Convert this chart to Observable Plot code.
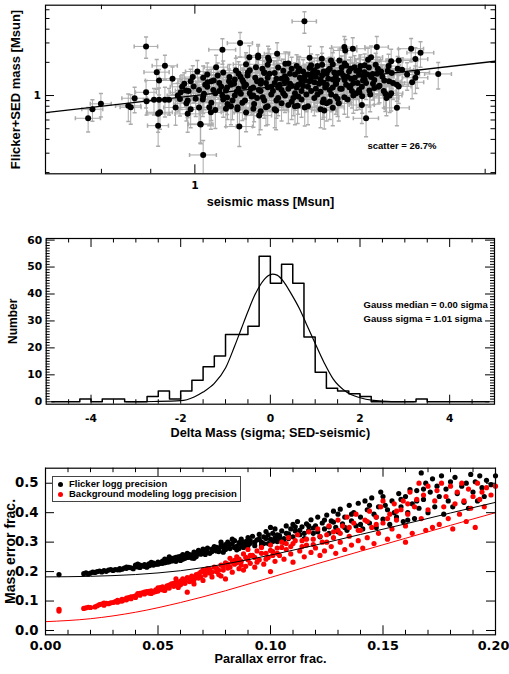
<!DOCTYPE html>
<html><head><meta charset="utf-8">
<script src="https://cdn.jsdelivr.net/npm/d3@7"></script>
<script src="https://cdn.jsdelivr.net/npm/@observablehq/plot@0.6"></script>
<style>
html,body{margin:0;padding:0;background:#fff;}
#wrap{position:relative;width:509px;height:674px;overflow:hidden;background:#fff;}
#wrap svg{display:block;}
#legend{position:absolute;left:52px;top:476px;width:189px;height:26px;border:1px solid #444;box-sizing:border-box;background:#fff;font:bold 9.5px 'Liberation Sans',Arial,sans-serif;color:#000;}
.li{position:absolute;left:16px;white-space:nowrap;line-height:10px;}
.dt{position:absolute;left:5px;width:5px;height:5px;border-radius:50%;}
</style></head><body>
<div id="wrap"><div id="p1"></div><div id="p2"></div><div id="p3"></div>
<div id="legend">
 <div class="dt" style="top:5px;background:#000"></div><div class="li" style="top:2px">Flicker logg precision</div>
 <div class="dt" style="top:14.5px;background:#f00"></div><div class="li" style="top:11.5px">Background modeling logg precision</div>
</div></div>
<script>
// ---------- Panel 1 data: [seismic mass, Flicker+SED mass, x err %, y err %] ----------
const seismicSedPts = [
[0.775,0.622,3.0,25],[0.783,0.751,2.5,22],[0.799,0.841,2.5,24],[0.853,0.806,3.0,28],[0.858,0.783,2.5,30],
[0.866,0.945,3.0,26],[0.890,2.79,2.8,22],[0.890,1.07,2.5,28],[0.891,0.888,3.0,25],[0.907,0.914,2.5,27],
[0.913,1.63,3.0,30],[0.916,0.682,2.8,32],[0.918,1.37,3.2,26],[0.916,0.533,2.5,35],[0.920,0.705,3.0,30],
[0.918,0.914,2.5,28],[0.931,1.86,3.0,25],[0.931,0.914,2.8,30],[0.940,0.914,2.5,27],[0.948,1.42,3.0,28],
[0.967,1.07,2.5,30],[0.975,1.28,3.0,26],[0.979,1.11,2.5,28],[0.983,0.682,3.0,32],[0.983,0.90,2.8,30],
[0.995,1.47,3.0,27],[0.997,1.21,2.5,29],[1.002,0.933,3.0,31],[1.006,1.65,2.8,26],[1.014,0.545,3.0,33],
[1.020,0.289,3.2,35],[1.019,0.92,2.5,30],[1.022,1.04,3.0,28],[1.031,1.32,2.8,30],[1.035,0.783,3.0,32],
[1.039,0.705,2.5,30],[1.046,1.37,3.0,27],[1.052,1.81,2.8,28],[1.056,1.52,3.0,30],[1.068,2.60,3.2,26],
[1.068,1.00,2.5,29],[1.077,1.11,3.0,31],[1.081,0.84,2.8,28],[1.086,1.47,3.0,30],[1.094,0.90,2.5,33],
[1.098,1.28,3.0,27],[1.103,1.69,2.8,29],[1.107,0.783,3.0,31],[1.112,0.523,3.2,34],[1.114,2.99,3.0,25],
[1.116,1.04,2.5,28],[1.123,1.32,3.0,30],[1.127,0.90,2.8,32],[1.134,1.52,3.0,28],[1.139,2.23,3.2,27],
[1.143,1.15,2.5,30],[1.152,0.84,3.0,31],[1.157,1.81,2.8,28],[1.163,2.23,3.0,26],[1.166,0.658,3.0,33],
[1.171,1.37,2.5,29],[1.176,0.965,3.0,30],[1.180,1.63,2.8,28],[1.185,0.783,3.0,32],[1.190,1.19,2.5,30],
[1.194,2.08,3.0,27],[1.299,4.71,2.9,22],[1.013,0.553,2.8,33],[1.163,2.31,3.0,26],[1.191,2.20,2.8,27],
[1.217,2.39,3.0,26],[1.241,1.94,2.8,28],[1.283,1.75,3.0,29],[1.315,2.20,2.8,27],[1.354,2.16,3.0,28],
[1.384,2.08,2.8,29],[1.429,2.75,3.0,25],[1.432,2.56,2.8,26],[1.362,0.73,3.0,32],[1.390,0.773,2.8,31],
[1.357,0.869,3.0,30],[1.278,0.81,2.8,31],[1.214,0.73,3.0,33],[1.107,0.751,2.8,32],[1.077,0.757,3.0,31],
[1.458,2.66,3.0,26],[1.544,2.75,2.8,25],[1.676,2.66,3.0,24],[1.714,2.44,3.2,26],[1.693,2.14,3.0,27],
[1.598,2.05,2.8,28],[1.627,2.08,3.0,27],[1.523,2.23,2.8,26],[1.512,2.11,3.0,27],[1.588,1.85,2.8,28],
[1.623,1.75,3.0,29],[1.640,1.71,2.8,28],[1.788,1.57,3.2,27],[1.693,1.45,3.0,28],[1.572,1.37,2.8,29],
[1.554,1.23,3.0,30],[1.535,1.17,2.8,29],[1.627,1.21,3.0,30],[1.576,1.04,2.8,31],[1.592,1.00,3.0,30],
[1.598,1.05,2.8,31],[1.491,0.986,3.0,30],[1.517,1.11,2.8,29],[1.620,0.773,3.0,31],[1.505,0.622,3.0,32],
[1.429,0.965,2.8,30],[1.406,0.933,3.0,31],[1.446,1.19,2.8,29],[1.452,1.42,3.0,28],[1.464,1.81,2.8,27],
[1.435,1.87,3.0,28],[1.481,1.69,2.8,28],[1.499,1.63,3.0,29],[1.529,1.57,2.8,28],[1.548,1.75,3.0,27],
[1.494,1.37,2.8,29],[1.523,1.47,3.0,28],[1.412,2.08,2.8,27],[1.418,1.63,3.0,28],[1.401,1.28,2.8,29],
[1.481,1.07,3.0,30],
[0.955,0.78,2.8,31],[0.96,1.00,2.5,29],[0.965,0.93,3.0,30],[0.97,1.20,2.8,28],[0.98,0.85,3.0,31],
[0.985,1.10,2.5,29],[0.99,1.35,3.0,28],[0.99,0.75,2.8,32],
[1.01,1.12,3.0,29],[1.02,0.98,2.8,30],[1.03,1.20,3.0,28],[1.04,0.86,2.5,31],[1.05,1.05,3.0,30],
[1.06,1.30,2.8,28],[1.07,0.92,3.0,31],[1.08,1.18,2.5,29],[1.09,0.80,3.0,32],[1.10,1.40,2.8,28],
[1.01,0.78,3.0,31],[1.03,1.55,2.8,27],[1.05,0.74,3.0,32],[1.06,1.10,2.5,30],[1.08,0.96,3.0,30],
[1.09,1.25,2.8,29],[1.04,1.35,3.0,28],[1.02,1.45,2.8,28],[1.07,1.62,3.0,27],[1.10,1.00,2.5,30],
[1.11,1.15,3.0,29],[1.12,0.86,2.8,31],[1.13,1.25,3.0,29],[1.14,1.05,2.5,30],[1.15,0.76,3.0,32],
[1.16,1.35,2.8,28],[1.17,1.10,3.0,30],[1.18,0.90,2.8,31],[1.19,1.45,3.0,28],[1.20,1.20,2.5,29],
[1.11,1.58,3.0,28],[1.13,0.70,2.8,33],[1.14,1.70,3.0,27],[1.15,1.00,2.8,30],[1.16,0.95,3.0,31],
[1.17,1.28,2.5,29],[1.18,1.60,3.0,28],[1.19,0.80,2.8,32],[1.12,1.38,3.0,29],[1.20,1.02,2.8,30],
[1.15,1.18,3.0,29],[1.17,0.72,2.8,32],[1.13,1.92,3.0,27],[1.19,1.90,2.8,27],
[1.21,1.30,3.0,29],[1.22,0.95,2.8,31],[1.23,1.12,3.0,30],[1.24,1.50,2.5,28],[1.25,0.82,3.0,32],
[1.26,1.22,2.8,29],[1.27,1.05,3.0,30],[1.28,1.65,2.8,28],[1.29,0.92,3.0,31],[1.30,1.38,2.5,29],
[1.21,0.75,3.0,32],[1.22,1.80,2.8,27],[1.23,1.42,3.0,28],[1.24,1.00,2.8,30],[1.25,1.15,3.0,29],
[1.26,0.88,2.5,31],[1.27,1.55,3.0,28],[1.28,1.25,2.8,29],[1.29,1.10,3.0,30],[1.30,0.78,2.8,32],
[1.22,1.18,3.0,29],[1.24,1.32,2.8,29],[1.26,1.75,3.0,27],[1.28,0.98,2.8,31],[1.30,1.50,3.0,28],
[1.21,1.60,2.8,28],[1.23,0.85,3.0,31],[1.25,1.95,2.8,27],[1.27,0.80,3.0,32],[1.29,1.35,2.8,29],
[1.31,1.20,3.0,30],[1.32,1.45,2.8,28],[1.33,0.95,3.0,31],[1.34,1.62,2.5,28],[1.35,1.08,3.0,30],
[1.36,1.30,2.8,29],[1.37,0.85,3.0,31],[1.38,1.75,2.8,27],[1.39,1.18,3.0,30],[1.40,1.50,2.8,28],
[1.31,0.80,3.0,32],[1.32,1.88,2.8,27],[1.33,1.32,3.0,29],[1.34,1.02,2.8,30],[1.35,1.40,3.0,29],
[1.36,0.92,2.5,31],[1.37,1.58,3.0,28],[1.38,1.12,2.8,30],[1.39,1.92,3.0,27],[1.40,0.98,2.8,31],
[1.31,1.55,3.0,28],[1.33,1.70,2.8,28],[1.35,0.75,3.0,32],[1.37,1.25,2.8,29],[1.39,1.40,3.0,29],
[1.32,1.10,2.8,30],[1.34,1.85,3.0,27],[1.36,1.65,2.8,28],[1.38,0.88,3.0,31],[1.40,1.28,2.8,29],
[1.41,1.60,3.0,28],[1.42,1.15,2.8,30],[1.43,1.38,3.0,29],[1.44,0.92,2.8,31],[1.45,1.75,3.0,27],
[1.46,1.30,2.8,29],[1.47,1.05,3.0,30],[1.48,1.55,2.8,28],[1.49,1.20,3.0,30],[1.50,1.88,2.8,27],
[1.41,0.85,3.0,31],[1.43,1.95,2.8,27],[1.44,1.48,3.0,28],[1.46,1.00,2.8,31],[1.47,1.68,3.0,28],
[1.48,1.12,2.8,30],[1.49,0.82,3.0,32],[1.42,1.80,2.8,27],[1.45,1.22,3.0,29],[1.50,1.40,2.8,29],
[1.51,1.55,3.0,28],[1.53,1.28,3.0,29],[1.54,1.90,2.8,27],[1.56,1.65,2.8,28],[1.57,1.10,3.0,30],
[1.59,1.35,3.0,29],[1.60,1.60,2.8,28],[1.62,1.25,2.8,29],[1.52,1.02,3.0,30],[1.55,1.20,2.8,30],
[1.58,0.95,3.0,31],[1.66,1.55,3.0,28],[1.68,1.32,2.8,29],[1.70,1.62,3.0,28],
[1.105,1.08,3.0,30],[1.125,1.20,2.8,29],[1.145,0.98,3.0,31],[1.165,1.12,2.8,30],[1.185,1.30,3.0,29],
[1.205,1.10,2.8,30],[1.215,0.90,3.0,31],[1.225,1.25,2.8,29],[1.235,1.05,3.0,30],[1.245,1.40,2.8,28],
[1.255,1.28,3.0,29],[1.265,0.95,2.8,31],[1.275,1.18,3.0,30],[1.285,1.45,2.8,28],[1.295,1.22,3.0,29],
[1.305,1.02,2.8,30],[1.315,1.35,3.0,29],[1.325,1.60,2.8,28],[1.335,1.15,3.0,30],[1.345,1.28,2.8,29],
[1.355,1.52,3.0,28],[1.365,1.18,2.8,30],[1.375,1.42,3.0,29],[1.385,1.02,2.8,30],[1.395,1.62,3.0,28],
[1.405,1.38,2.8,29],[1.415,1.15,3.0,30],[1.425,1.52,2.8,28],[1.435,1.25,3.0,29],[1.445,1.65,2.8,28],
[1.455,1.10,3.0,30],[1.465,1.45,2.8,28],[1.475,1.30,3.0,29],[1.485,1.85,2.8,27],[1.495,1.50,3.0,28],
[1.505,1.30,2.8,29],[1.515,1.80,3.0,27],[1.535,1.38,2.8,29],[1.545,1.58,3.0,28],[1.565,1.48,2.8,28],
[1.585,1.68,3.0,28],[1.605,1.30,2.8,29],[1.085,1.35,3.0,29],[1.065,1.20,2.8,29],[1.045,1.12,3.0,30],
[1.025,1.25,2.8,29],[1.115,1.48,3.0,28],[1.135,1.62,2.8,28],[1.155,1.45,3.0,28],[1.175,1.75,2.8,27],
[1.195,1.58,3.0,28],[1.215,1.42,2.8,28],[1.235,1.68,3.0,27],[1.255,1.58,2.8,28],[1.275,1.85,3.0,27],
[1.295,1.65,2.8,28],[1.315,1.78,3.0,27],[1.335,1.48,2.8,28],[1.355,1.90,3.0,27],[1.375,1.70,2.8,28]
];
const oneToOneLine = [0.70, 2.05];
const p1XDomain = [0.70, 2.05];
const p1YDomain = [0.195, 6.6];
const p1XMinorTicks = [0.8, 0.9, 2];
const p1XMajorTicks = [1];
const p1YMinorTicks = [0.2,0.3,0.4,0.5,0.6,0.7,0.8,0.9,2,3,4,5,6];
const p1YMajorTicks = [1];
const scatterLabel = "scatter = 26.7%";

// ---------- Panel 2 data: histogram of Delta Mass, bins of 0.25 from -5 ----------
const histBinStart = -5, histBinWidth = 0.25;
const histCounts = [0,0,0,1,0,1,1,0,0,2, 4,1,4,8,13,17,25,25,28,54, 44,51,44,24,11,5,4,3,2,0, 0,0,0,1,0,0,0,0,0,0];
const gaussX = [-3.2,-2.6,-2.0,-1.7,-1.5,-1.25,-1.0,-0.8,-0.65,-0.5,-0.35,-0.2,-0.05,0.05,0.15,0.3,0.45,0.65,0.8,0.95,1.2,1.4,1.7,2.0,2.3,2.7,3.2];
const gaussY = [0,0.1,0.4,1.8,3.6,6.8,12.5,20.5,27,33.5,39.5,44,46.8,47.4,47,44.5,40.5,34.5,29,23.5,14.5,8.5,3.6,1.5,0.5,0.05,0];
const p2XMajor = [-4,-2,0,2,4];
const p2XMinor = [-4.5,-3.5,-3,-2.5,-1.5,-1,-0.5,0.5,1,1.5,2.5,3,3.5,4.5];
const p2YMajor = [0,10,20,30,40,50,60];
const gaussNotes = ["Gauss median = 0.00 sigma", "Gauss sigma = 1.01 sigma"];

// ---------- Panel 3 data: [parallax error frac, mass error frac] ----------
const flickerPts = [
[0.006,0.190],[0.017,0.193],[0.018,0.196],[0.020,0.195],[0.021,0.198],[0.023,0.200],[0.025,0.199],[0.026,0.203],[0.027,0.201],[0.028,0.205],[0.030,0.204],[0.031,0.207],
[0.032,0.206],[0.033,0.210],[0.034,0.208],[0.035,0.212],[0.036,0.211],[0.037,0.214],[0.038,0.213],[0.040,0.218],[0.041,0.216],[0.042,0.222],[0.043,0.219],[0.044,0.224],[0.045,0.221],[0.046,0.226],[0.047,0.223],[0.048,0.229],[0.049,0.225],[0.050,0.232],[0.041,0.225],[0.045,0.215],[0.047,0.231],
[0.051,0.228],[0.052,0.236],[0.053,0.230],[0.054,0.240],[0.055,0.233],[0.056,0.244],[0.057,0.237],[0.058,0.248],[0.059,0.241],[0.060,0.252],[0.060,0.238],[0.061,0.258],[0.062,0.245],[0.063,0.262],[0.064,0.249],[0.065,0.256],[0.066,0.266],[0.067,0.251],[0.068,0.272],[0.069,0.259],[0.070,0.264],[0.070,0.276],[0.055,0.250],[0.058,0.235],[0.062,0.255],[0.066,0.245],[0.068,0.262],
[0.071,0.268],[0.072,0.280],[0.073,0.262],[0.074,0.276],[0.075,0.285],[0.076,0.270],[0.077,0.279],[0.078,0.288],[0.079,0.266],[0.080,0.292],[0.081,0.300],[0.082,0.278],[0.083,0.295],[0.084,0.305],[0.085,0.286],[0.086,0.298],[0.087,0.310],[0.088,0.282],[0.089,0.302],[0.090,0.315],[0.081,0.285],[0.083,0.310],[0.085,0.274],[0.087,0.292],[0.089,0.290],[0.075,0.273],[0.078,0.300],
[0.091,0.296],[0.092,0.320],[0.093,0.288],[0.094,0.308],[0.095,0.326],[0.096,0.300],[0.097,0.318],[0.098,0.336],[0.099,0.295],[0.100,0.350],[0.100,0.310],[0.101,0.330],[0.102,0.345],[0.103,0.302],[0.104,0.322],[0.105,0.338],[0.106,0.312],[0.107,0.355],[0.108,0.328],[0.109,0.345],[0.110,0.318],[0.110,0.360],[0.096,0.290],[0.099,0.325],[0.102,0.315],[0.106,0.300],
[0.111,0.338],[0.112,0.370],[0.113,0.325],[0.114,0.352],[0.115,0.312],[0.116,0.362],[0.117,0.340],[0.118,0.376],[0.119,0.330],[0.120,0.355],[0.121,0.385],[0.122,0.318],[0.123,0.365],[0.124,0.345],[0.125,0.392],[0.126,0.330],[0.127,0.372],[0.128,0.405],[0.129,0.350],[0.130,0.395],[0.130,0.335],
[0.131,0.412],[0.132,0.362],[0.133,0.385],[0.134,0.340],[0.135,0.425],[0.136,0.372],[0.137,0.400],[0.138,0.355],[0.139,0.432],[0.140,0.385],[0.141,0.345],[0.142,0.440],[0.143,0.410],[0.144,0.365],[0.145,0.450],[0.146,0.395],[0.147,0.350],[0.148,0.420],[0.149,0.470],[0.150,0.378],[0.150,0.455],
[0.152,0.410],[0.153,0.360],[0.154,0.440],[0.156,0.385],[0.157,0.465],[0.158,0.420],[0.159,0.370],[0.160,0.455],[0.161,0.400],[0.162,0.478],[0.163,0.430],[0.164,0.380],[0.165,0.475],[0.166,0.415],[0.167,0.535],[0.168,0.445],[0.169,0.500],[0.170,0.400],
[0.171,0.470],[0.172,0.515],[0.173,0.420],[0.174,0.490],[0.175,0.455],[0.176,0.525],[0.177,0.395],[0.178,0.480],[0.179,0.440],[0.180,0.505],[0.181,0.420],[0.182,0.520],[0.183,0.465],[0.185,0.490],[0.186,0.435],[0.187,0.500],[0.188,0.415],[0.189,0.530],[0.190,0.470],[0.191,0.505],[0.192,0.440],[0.193,0.525],[0.194,0.485],[0.195,0.455],[0.196,0.510],[0.198,0.495],[0.200,0.525],
[0.019,0.192],[0.022,0.197],[0.024,0.202],[0.029,0.207],[0.033,0.206],[0.036,0.215],[0.039,0.210],[0.040,0.222],[0.042,0.214],[0.044,0.218],[0.046,0.220],[0.048,0.222],[0.050,0.225],[0.052,0.228],[0.053,0.242],[0.054,0.232],[0.056,0.236],[0.057,0.246],[0.059,0.250],[0.061,0.242],[0.063,0.248],[0.064,0.258],[0.065,0.246],[0.067,0.260],[0.069,0.268],[0.071,0.258],[0.072,0.265],[0.074,0.268],[0.076,0.282],[0.077,0.268],[0.079,0.282],[0.080,0.275],[0.082,0.292],[0.084,0.282],[0.086,0.278],[0.088,0.298],[0.090,0.288],[0.091,0.305],[0.093,0.300],[0.095,0.310],[0.097,0.295],[0.098,0.312],[0.101,0.302],[0.103,0.325],[0.104,0.312],[0.107,0.330],[0.108,0.312],[0.111,0.352],[0.113,0.340],[0.115,0.330],[0.117,0.355],[0.119,0.348],[0.121,0.335],[0.124,0.375],[0.126,0.352],[0.128,0.368],[0.133,0.350],[0.136,0.395],[0.140,0.360],[0.144,0.425],[0.147,0.385],[0.151,0.425],[0.155,0.400],[0.158,0.445],[0.161,0.375],[0.165,0.440],[0.168,0.480]
];
const backgroundPts = [
[0.006,0.072],[0.006,0.066],[0.017,0.075],[0.018,0.077],[0.020,0.078],[0.022,0.080],[0.024,0.088],[0.025,0.090],[0.026,0.086],[0.027,0.092],[0.028,0.091],[0.030,0.095],[0.031,0.098],[0.032,0.102],[0.033,0.100],[0.034,0.106],[0.035,0.104],[0.036,0.110],[0.037,0.112],[0.038,0.108],[0.039,0.115],[0.040,0.118],[0.041,0.125],[0.042,0.120],[0.043,0.128],[0.044,0.124],[0.045,0.132],[0.046,0.127],[0.047,0.135],[0.048,0.130],[0.049,0.138],[0.050,0.134],[0.050,0.145],
[0.051,0.140],[0.052,0.148],[0.053,0.136],[0.054,0.152],[0.055,0.144],[0.056,0.158],[0.057,0.150],[0.058,0.162],[0.059,0.146],[0.060,0.168],[0.060,0.155],[0.061,0.175],[0.062,0.160],[0.063,0.180],[0.063,0.130],[0.064,0.166],[0.065,0.185],[0.066,0.172],[0.067,0.190],[0.068,0.178],[0.069,0.198],[0.070,0.170],[0.070,0.205],[0.058,0.175],[0.066,0.158],
[0.071,0.188],[0.072,0.210],[0.073,0.195],[0.074,0.182],[0.075,0.215],[0.076,0.200],[0.077,0.190],[0.078,0.222],[0.079,0.205],[0.080,0.175],[0.080,0.230],[0.081,0.212],[0.082,0.245],[0.083,0.198],[0.084,0.225],[0.085,0.250],[0.086,0.210],[0.087,0.235],[0.088,0.260],[0.089,0.218],[0.090,0.240],[0.090,0.275],[0.078,0.185],[0.084,0.238],[0.088,0.205],
[0.091,0.228],[0.092,0.255],[0.093,0.215],[0.094,0.270],[0.095,0.240],[0.096,0.282],[0.097,0.225],[0.098,0.262],[0.099,0.248],[0.100,0.200],[0.100,0.290],[0.101,0.268],[0.102,0.235],[0.103,0.280],[0.104,0.255],[0.105,0.300],[0.106,0.242],[0.107,0.275],[0.108,0.315],[0.109,0.260],[0.110,0.295],[0.110,0.232],
[0.112,0.325],[0.113,0.270],[0.114,0.305],[0.115,0.250],[0.116,0.290],[0.117,0.335],[0.118,0.265],[0.119,0.310],[0.120,0.280],[0.121,0.345],[0.122,0.255],[0.123,0.300],[0.124,0.270],[0.125,0.325],[0.126,0.355],[0.127,0.285],[0.128,0.315],[0.129,0.262],[0.130,0.340],[0.130,0.375],
[0.131,0.300],[0.132,0.355],[0.133,0.275],[0.134,0.385],[0.135,0.320],[0.136,0.290],[0.137,0.365],[0.138,0.395],[0.139,0.305],[0.140,0.340],[0.141,0.280],[0.142,0.375],[0.143,0.315],[0.144,0.405],[0.145,0.350],[0.146,0.295],[0.147,0.385],[0.148,0.330],[0.149,0.420],[0.150,0.365],[0.150,0.440],
[0.152,0.310],[0.153,0.395],[0.154,0.345],[0.155,0.430],[0.156,0.375],[0.157,0.320],[0.158,0.410],[0.159,0.440],[0.160,0.300],[0.160,0.355],[0.161,0.395],[0.162,0.470],[0.163,0.330],[0.164,0.420],[0.165,0.445],[0.166,0.500],[0.167,0.380],[0.168,0.460],[0.169,0.340],[0.170,0.490],[0.170,0.410],
[0.172,0.350],[0.173,0.440],[0.174,0.475],[0.175,0.360],[0.176,0.500],[0.177,0.420],[0.178,0.455],[0.179,0.380],[0.180,0.490],[0.181,0.345],[0.182,0.430],[0.183,0.470],[0.184,0.395],[0.185,0.500],[0.186,0.440],[0.187,0.370],[0.188,0.480],[0.189,0.415],[0.190,0.455],[0.191,0.350],[0.192,0.500],[0.193,0.445],[0.194,0.470],[0.195,0.420],[0.196,0.485],[0.198,0.460],[0.200,0.490],
[0.019,0.079],[0.023,0.084],[0.026,0.093],[0.029,0.094],[0.032,0.096],[0.034,0.100],[0.036,0.104],[0.038,0.114],[0.040,0.112],[0.042,0.126],[0.044,0.130],[0.046,0.133],[0.047,0.126],[0.049,0.132],[0.051,0.146],[0.052,0.138],[0.054,0.145],[0.055,0.154],[0.057,0.160],[0.059,0.158],[0.061,0.162],[0.062,0.170],[0.064,0.178],[0.065,0.168],[0.067,0.180],[0.068,0.192],[0.069,0.182],[0.071,0.196],[0.072,0.200],[0.073,0.208],[0.074,0.198],[0.076,0.212],[0.077,0.205],[0.079,0.218],[0.081,0.225],[0.082,0.215],[0.083,0.232],[0.085,0.230],[0.086,0.242],[0.087,0.222],[0.089,0.248],[0.091,0.255],[0.093,0.248],[0.094,0.232],[0.096,0.262],[0.098,0.242],[0.100,0.272],[0.101,0.255],[0.103,0.262],[0.105,0.282],[0.107,0.295],[0.109,0.285],[0.111,0.305],[0.114,0.285],[0.116,0.310],[0.119,0.292],[0.122,0.320],[0.125,0.300],[0.128,0.335],[0.131,0.330],[0.135,0.350],[0.139,0.340],[0.143,0.370],[0.147,0.360],[0.152,0.380],[0.156,0.405],[0.161,0.430]
];
const modelX = [0,0.02,0.04,0.06,0.08,0.10,0.12,0.14,0.16,0.18,0.20];
const flickerModel = [0.182,0.184,0.190,0.203,0.226,0.256,0.290,0.326,0.362,0.399,0.435];
const backgroundModel = [0.030,0.040,0.062,0.095,0.135,0.180,0.225,0.269,0.313,0.357,0.400];
const p3XMajor = [0,0.05,0.10,0.15,0.20];
const p3XMinor = [0.01,0.02,0.03,0.04,0.06,0.07,0.08,0.09,0.11,0.12,0.13,0.14,0.16,0.17,0.18,0.19];
const p3YMajor = [0,0.1,0.2,0.3,0.4,0.5];

// ---------- helpers ----------
const FONT = "'Liberation Sans', Arial, Helvetica, sans-serif";
const TICKFONT = "'DejaVu Sans', Verdana, sans-serif";
const GRAY = "#ababab";
const hcap = {draw(c, s) {const w = Math.sqrt(s) / 2; c.moveTo(-w, 0); c.lineTo(w, 0);}};
const vcap = {draw(c, s) {const w = Math.sqrt(s) / 2; c.moveTo(0, -w); c.lineTo(0, w);}};
const baseStyle = {fontFamily: FONT, fontWeight: "bold", background: "white", color: "black", overflow: "visible"};

function tickMarks(vals, axis, len, pw, ph) {
  if (axis === "x") return [
    Plot.ruleX(vals, {x: d => d, insetTop: ph - len, stroke: "black"}),
    Plot.ruleX(vals, {x: d => d, insetBottom: ph - len, stroke: "black"})
  ];
  return [
    Plot.ruleY(vals, {y: d => d, insetRight: pw - len, stroke: "black"}),
    Plot.ruleY(vals, {y: d => d, insetLeft: pw - len, stroke: "black"})
  ];
}
const tickText = (size) => ({fontFamily: TICKFONT, fontSize: size, fontWeight: "bold", lineAnchor: "middle"});
const xTitle = (s, dy, size) => Plot.text([s], {frameAnchor: "bottom", dy, text: d => d, fontSize: size, fontWeight: "bold", textAnchor: "middle", lineAnchor: "middle"});
const yTitle = (s, dx, size) => Plot.text([s], {frameAnchor: "left", dx, rotate: -90, text: d => d, fontSize: size, fontWeight: "bold", textAnchor: "middle", lineAnchor: "middle"});
const note = (s, dx, dy) => Plot.text([s], {frameAnchor: "top-left", dx, dy, text: d => d, fontSize: 9.5, fontWeight: "bold", textAnchor: "start", lineAnchor: "middle"});

// ---------- Panel 1 ----------
{
  const rows = seismicSedPts.map(([x, y, ex, ey]) => ({x, y, xlo: x * (1 - ex / 100), xhi: x * (1 + ex / 100), ylo: y * (1 - ey / 100), yhi: y * (1 + ey / 100)}));
  const W = 509, H = 212, ml = 45, mr = 14, mt = 4.7, mb = 38.7;
  const pw = W - ml - mr, ph = H - mt - mb;
  const chart = Plot.plot({
    width: W, height: H, marginLeft: ml, marginRight: mr, marginTop: mt, marginBottom: mb,
    x: {type: "log", domain: p1XDomain, axis: null},
    y: {type: "log", domain: p1YDomain, axis: null},
    style: baseStyle,
    marks: [
      Plot.link(rows, {x1: "xlo", x2: "xhi", y1: "y", y2: "y", stroke: GRAY, strokeWidth: 1, clip: true}),
      Plot.link(rows, {x1: "x", x2: "x", y1: "ylo", y2: "yhi", stroke: GRAY, strokeWidth: 1, clip: true}),
      Plot.dot(rows, {x: "xlo", y: "y", symbol: vcap, r: 2.3, stroke: GRAY, fill: "none", clip: true}),
      Plot.dot(rows, {x: "xhi", y: "y", symbol: vcap, r: 2.3, stroke: GRAY, fill: "none", clip: true}),
      Plot.dot(rows, {x: "x", y: "ylo", symbol: hcap, r: 2.3, stroke: GRAY, fill: "none", clip: true}),
      Plot.dot(rows, {x: "x", y: "yhi", symbol: hcap, r: 2.3, stroke: GRAY, fill: "none", clip: true}),
      Plot.line(oneToOneLine, {x: d => d, y: d => d, stroke: "black", strokeWidth: 1.3, clip: true}),
      Plot.dot(rows, {x: "x", y: "y", r: 3, fill: "black", stroke: "none"}),
      Plot.frame({stroke: "black", strokeWidth: 1.2}),
      ...tickMarks(p1XMinorTicks, "x", 4.5, pw, ph),
      ...tickMarks(p1XMajorTicks, "x", 9, pw, ph),
      ...tickMarks(p1YMinorTicks, "y", 4.5, pw, ph),
      ...tickMarks(p1YMajorTicks, "y", 9, pw, ph),
      Plot.text(p1XMajorTicks, {x: d => d, frameAnchor: "bottom", dy: 12.2, text: d => String(d), ...tickText(10.7)}),
      Plot.text(p1YMajorTicks, {y: d => d, frameAnchor: "left", dx: -4.5, textAnchor: "end", text: d => String(d), ...tickText(10.7)}),
      xTitle("seismic mass [Msun]", 27.7, 12.7),
      yTitle("Flicker+SED mass [Msun]", -30, 13),
      note(scatterLabel, 322, 140.5)
    ]
  });
  document.getElementById("p1").append(chart);
}

// ---------- Panel 2 ----------
{
  const bins = histCounts.map((n, i) => ({mid: histBinStart + (i + 0.5) * histBinWidth, n}));
  const gauss = gaussX.map((x, i) => ({x, y: gaussY[i]}));
  const W = 509, H = 233, ml = 45.7, mr = 15, mt = 26, mb = 41.3;
  const pw = W - ml - mr, ph = H - mt - mb;
  const yMinor = d3.range(1, 61).filter(v => v % 10 !== 0);
  const chart = Plot.plot({
    width: W, height: H, marginLeft: ml, marginRight: mr, marginTop: mt, marginBottom: mb,
    x: {domain: [-5, 5], axis: null},
    y: {domain: [-0.9, 60.6], axis: null},
    style: baseStyle,
    marks: [
      Plot.line(bins, {x: "mid", y: "n", curve: "step", stroke: "black", strokeWidth: 1.5}),
      Plot.line(gauss, {x: "x", y: "y", curve: "monotone-x", stroke: "black", strokeWidth: 1.2}),
      Plot.frame({stroke: "black", strokeWidth: 1.2}),
      ...tickMarks(p2XMinor, "x", 4.5, pw, ph),
      ...tickMarks(p2XMajor, "x", 9, pw, ph),
      ...tickMarks(yMinor, "y", 4, pw, ph),
      ...tickMarks(p2YMajor, "y", 9, pw, ph),
      Plot.text(p2XMajor, {x: d => d, frameAnchor: "bottom", dy: 14.3, text: d => String(d), ...tickText(10.7)}),
      Plot.text(p2YMajor, {y: d => d, frameAnchor: "left", dx: -4, textAnchor: "end", text: d => String(d), ...tickText(10.7)}),
      xTitle("Delta Mass (sigma; SED-seismic)", 28.3, 12.7),
      yTitle("Number", -32.7, 12),
      note(gaussNotes[0], 317.3, 66),
      note(gaussNotes[1], 317.3, 80.3)
    ]
  });
  document.getElementById("p2").append(chart);
}

// ---------- Panel 3 ----------
{
  const W = 509, H = 229, ml = 45, mr = 14, mt = 22.7, mb = 39.7;
  const pw = W - ml - mr, ph = H - mt - mb;
  const fl = flickerPts.map(([x, y]) => ({x, y}));
  const bg = backgroundPts.map(([x, y]) => ({x, y}));
  const flM = modelX.map((x, i) => ({x, y: flickerModel[i]}));
  const bgM = modelX.map((x, i) => ({x, y: backgroundModel[i]}));
  const lastX = p3XMajor[p3XMajor.length - 1];
  const chart = Plot.plot({
    width: W, height: H, marginLeft: ml, marginRight: mr, marginTop: mt, marginBottom: mb,
    x: {domain: [0, 0.2], axis: null},
    y: {domain: [-0.0146, 0.551], axis: null},
    style: baseStyle,
    marks: [
      Plot.dot(fl, {x: "x", y: "y", r: 2.6, fill: "black", stroke: "none"}),
      Plot.dot(bg, {x: "x", y: "y", r: 2.6, fill: "#ff0000", stroke: "none"}),
      Plot.line(flM, {x: "x", y: "y", curve: "monotone-x", stroke: "black", strokeWidth: 1}),
      Plot.line(bgM, {x: "x", y: "y", curve: "monotone-x", stroke: "#ff0000", strokeWidth: 1}),
      Plot.frame({stroke: "black", strokeWidth: 1.2}),
      ...tickMarks(p3XMinor, "x", 4.5, pw, ph),
      ...tickMarks(p3XMajor, "x", 9, pw, ph),
      ...tickMarks(p3YMajor, "y", 9, pw, ph),
      Plot.text(p3XMajor.filter(v => v !== lastX), {x: d => d, frameAnchor: "bottom", dy: 10.7, text: d => d3.format(".2f")(d), ...tickText(12.8)}),
      Plot.text([lastX], {x: d => d, frameAnchor: "bottom", dy: 10.7, dx: -2, text: d => d3.format(".2f")(d), ...tickText(12.8), textAnchor: "middle"}),
      Plot.text(p3YMajor, {y: d => d, frameAnchor: "left", dx: -7, textAnchor: "end", text: d => d3.format(".1f")(d), ...tickText(13.3)}),
      xTitle("Parallax error frac.", 23.7, 12.7),
      yTitle("Mass error frac.", -35, 14)
    ]
  });
  document.getElementById("p3").append(chart);
}
</script>
</body></html>
